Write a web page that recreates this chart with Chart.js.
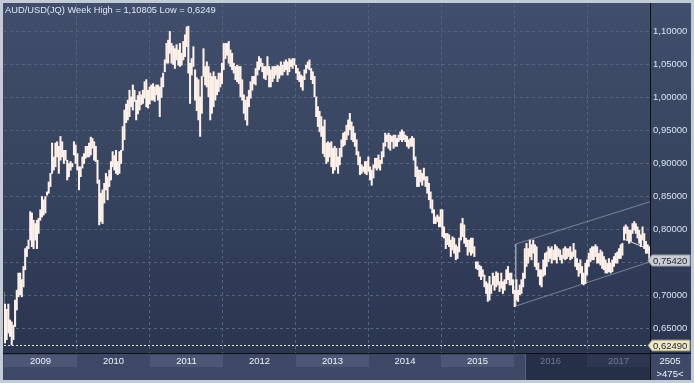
<!DOCTYPE html>
<html>
<head>
<meta charset="utf-8">
<script src="https://cdn.jsdelivr.net/npm/chart.js@4.4.0/dist/chart.umd.min.js"></script>
<style>
  html, body { margin: 0; padding: 0; background: #c3cbd6; }
  canvas { display: block; }
</style>
</head>
<body>
<canvas id="my-chart" width="694" height="383"></canvas>
<script>
// weekly high / low of AUD/USD (Jan 2009 -> Nov 2017)
const highs = [
  0.705,0.687,0.679,0.687,0.663,0.660,0.655,0.693,0.708,0.734,
  0.734,0.724,0.744,0.771,0.774,0.784,0.827,0.825,0.814,0.809,
  0.814,0.817,0.830,0.850,0.845,0.850,0.857,0.872,0.885,0.931,
  0.910,0.931,0.933,0.926,0.941,0.933,0.920,0.920,0.905,0.900,
  0.903,0.900,0.933,0.928,0.915,0.895,0.895,0.910,0.915,0.926,
  0.926,0.931,0.940,0.938,0.933,0.926,0.905,0.875,0.855,0.860,
  0.870,0.885,
  0.880,0.890,0.903,0.918,0.912,0.920,0.903,0.918,0.920,0.956,
  0.981,0.990,0.996,1.011,1.001,1.019,1.011,0.996,1.003,1.009,
  1.004,1.011,1.024,1.027,1.011,1.016,1.019,1.021,1.016,1.019,
  1.019,1.016,1.030,1.037,1.057,1.082,1.087,1.100,1.082,1.078,
  1.074,1.080,1.072,1.082,1.067,1.085,1.095,1.107,1.108,1.052,
  1.059,1.077,1.042,1.030,1.027,1.001,1.032,1.074,1.047,1.054,
  1.047,1.037,1.032,1.039,1.032,1.027,1.037,1.037,1.052,1.082,
  1.082,1.082,1.085,1.072,1.067,1.052,1.047,1.049,1.047,1.047,
  1.027,1.004,0.996,1.001,1.011,1.024,1.032,1.032,1.044,1.054,
  1.062,1.059,1.052,1.047,1.047,1.062,1.047,1.042,1.047,1.047,
  1.047,1.049,1.047,1.054,1.049,1.054,1.057,1.054,1.059,1.057,
  1.059,1.059,1.049,1.044,1.039,1.034,1.032,1.042,1.049,1.054,
  1.057,1.044,
  1.039,1.032,1.001,0.986,0.979,0.971,0.956,0.966,0.931,0.933,
  0.931,0.933,0.923,0.926,0.923,0.910,0.923,0.936,0.946,0.948,
  0.958,0.966,0.976,0.963,0.956,0.946,0.936,0.918,0.910,0.898,
  0.895,0.903,0.903,0.910,0.895,0.890,0.898,0.908,0.908,
  0.913,0.905,0.918,0.931,0.946,0.943,0.946,0.943,
  0.941,0.943,0.943,0.938,0.943,0.948,0.951,
  0.948,0.943,0.941,0.936,0.938,
  0.941,0.938,0.910,0.895,
  0.890,0.890,0.885,0.893,0.880,0.880,0.870,0.857,0.845,0.830,0.819,
  0.822,0.819,0.830,0.830,0.804,0.794,
  0.794,0.792,0.784,0.789,0.787,0.777,0.774,0.787,0.809,0.817,0.807,
  0.787,0.784,0.784,0.787,0.787,0.774,0.751,0.751,0.746,0.744,0.739,
  0.731,0.721,0.718,0.729,0.716,0.734,0.729,0.736,0.734,0.721,0.734,
  0.721,0.724,0.739,0.744,0.734,
  0.734,0.724,0.708,0.724,0.708,0.716,0.724,0.734,
  0.771,0.779,0.771,0.784,0.777,0.784,0.777,0.774,0.749,
  0.739,0.739,0.754,0.764,0.766,0.774,0.771,0.774,0.769,0.777,
  0.774,0.771,0.769,0.761,0.771,0.774,0.771,0.771,0.774,0.766,
  0.779,0.769,0.756,0.749,0.754,0.744,0.734,0.749,0.754,0.764,
  0.771,0.774,0.774,0.777,0.774,0.764,0.769,0.766,0.759,0.754,
  0.749,0.756,0.749,0.754,0.759,0.764,0.766,0.771,0.777,0.779,
  0.804,0.807,0.804,0.799,0.799,0.809,0.812,0.809,0.804,0.799,
  0.792,0.804,0.794,0.782,0.777,0.774
];
const lows = [
  0.655,0.628,0.633,0.643,0.638,0.625,0.633,0.653,0.678,0.698,
  0.701,0.698,0.713,0.739,0.759,0.771,0.784,0.774,0.771,0.784,
  0.771,0.794,0.814,0.819,0.822,0.825,0.852,0.855,0.865,0.885,
  0.890,0.895,0.910,0.885,0.905,0.910,0.900,0.905,0.875,0.880,
  0.890,0.895,0.913,0.900,0.890,0.860,0.880,0.893,0.900,0.908,
  0.910,0.910,0.913,0.923,0.905,0.903,0.870,0.807,0.812,0.809,
  0.840,0.860,
  0.845,0.865,0.875,0.895,0.890,0.885,0.883,0.885,0.900,0.920,
  0.936,0.962,0.966,0.971,0.986,0.981,0.994,0.966,0.975,0.981,
  0.989,0.991,0.999,0.986,0.984,0.990,0.996,0.996,0.994,1.004,
  0.996,0.971,1.000,1.016,1.039,1.052,1.052,1.067,1.052,1.050,
  1.044,1.057,1.049,1.047,1.049,1.057,1.062,1.077,1.037,0.991,
  1.034,1.047,0.996,0.980,0.966,0.941,0.976,1.032,1.019,1.016,
  1.001,0.966,0.976,0.986,0.996,1.004,1.009,1.016,1.021,1.042,
  1.059,1.064,1.052,1.047,1.042,1.037,1.027,1.024,1.021,1.001,
  0.996,0.976,0.966,0.958,0.986,0.999,1.011,1.021,1.019,1.034,
  1.042,1.047,1.039,1.029,1.027,1.034,1.016,1.016,1.024,1.029,
  1.034,1.024,1.029,1.034,1.034,1.039,1.042,1.034,1.039,1.047,
  1.044,1.049,1.037,1.027,1.024,1.016,1.011,1.027,1.037,1.044,
  1.042,1.027,
  1.021,1.001,0.971,0.956,0.948,0.941,0.915,0.910,0.900,0.903,
  0.910,0.895,0.885,0.890,0.895,0.885,0.898,0.910,0.926,0.928,
  0.936,0.943,0.951,0.936,0.933,0.926,0.913,0.898,0.883,0.885,
  0.888,0.885,0.883,0.888,0.875,0.867,0.878,0.893,0.890,
  0.893,0.890,0.900,0.910,0.926,0.933,0.923,0.920,
  0.933,0.923,0.926,0.926,0.933,0.936,0.933,
  0.936,0.933,0.926,0.923,0.926,
  0.926,0.905,0.880,0.865,
  0.865,0.872,0.867,0.875,0.865,0.855,0.845,0.832,0.825,0.809,0.809,
  0.812,0.804,0.804,0.789,0.787,0.771,
  0.777,0.774,0.759,0.769,0.764,0.754,0.756,0.766,0.784,0.789,0.779,
  0.774,0.761,0.766,0.761,0.764,0.759,0.741,0.739,0.729,0.724,0.729,
  0.713,0.703,0.691,0.693,0.703,0.716,0.708,0.713,0.716,0.706,0.711,
  0.703,0.708,0.718,0.724,0.716,
  0.716,0.703,0.683,0.693,0.691,0.701,0.703,0.713,
  0.726,0.744,0.749,0.759,0.754,0.764,0.744,0.739,0.729,
  0.716,0.713,0.729,0.731,0.744,0.751,0.756,0.749,0.754,0.754,
  0.749,0.759,0.754,0.749,0.756,0.754,0.756,0.759,0.754,0.756,
  0.759,0.744,0.739,0.729,0.734,0.718,0.716,0.718,0.731,0.744,
  0.751,0.754,0.754,0.759,0.749,0.749,0.746,0.741,0.739,0.734,
  0.734,0.736,0.734,0.736,0.744,0.749,0.749,0.756,0.756,0.761,
  0.784,0.794,0.784,0.779,0.782,0.794,0.799,0.794,0.787,0.779,
  0.774,0.784,0.771,0.764,0.764,0.754
];

const years = [2009, 2010, 2011, 2012, 2013, 2014, 2015, 2016, 2017];
const yTicks = [0.65, 0.70, 0.75, 0.80, 0.85, 0.90, 0.95, 1.00, 1.05, 1.10];
const lastPrice = 0.7542;
const lowPrice = 0.6249;
const titleText = 'AUD/USD(JQ) Week High = 1,10805 Low = 0,6249';

// drawn channel and the short trend line (year, price)
const channelTop = [{x: 2016.02, y: 0.778}, {x: 2017.86, y: 0.842}];
const channelBottom = [{x: 2016.02, y: 0.684}, {x: 2017.86, y: 0.751}];
const channelEdge = [{x: 2016.02, y: 0.778}, {x: 2016.02, y: 0.684}];
const shortTrend = [{x: 2017.51, y: 0.785}, {x: 2017.85, y: 0.770}];

const fadedFrom = 2016.15; // scroll bar area that is greyed out
const FONT = "'Liberation Sans', Arial, sans-serif";

const fmt = v => v.toFixed(5).replace('.', ',');

const panelPlugin = {
  id: 'panel',
  beforeDraw(chart) {
    const ctx = chart.ctx;
    const area = chart.chartArea;
    ctx.save();
    ctx.fillStyle = '#c3cbd6';
    ctx.fillRect(0, 0, chart.width, chart.height);
    const g = ctx.createLinearGradient(0, area.top, 0, area.bottom);
    g.addColorStop(0, '#414e6c');
    g.addColorStop(0.5, '#37445f');
    g.addColorStop(1, '#2a3550');
    ctx.fillStyle = g;
    ctx.fillRect(3, 3, 688, area.bottom - 3);
    // time strip
    ctx.fillStyle = '#3d4967';
    ctx.fillRect(3, area.bottom, 688, 27);
    const xs = chart.scales.xYear;
    const fadeX = Math.round(xs.getPixelForValue(fadedFrom));
    ctx.fillStyle = '#252f47';
    ctx.fillRect(fadeX, area.bottom + 1, area.right - fadeX, 26);
    ctx.font = '9.5px ' + FONT;
    ctx.textAlign = 'center';
    ctx.textBaseline = 'middle';
    years.forEach((yr, i) => {
      const x0 = Math.round(xs.getPixelForValue(yr));
      const x1 = Math.round(Math.min(xs.getPixelForValue(yr + 1), area.right));
      const faded = x1 > fadeX + 20;
      if (i % 2 === 0) {
        const bx = faded ? Math.max(x0, fadeX + 1) : x0;
        ctx.fillStyle = faded ? '#2d3751' : '#4b5775';
        ctx.fillRect(bx, area.bottom + 2, x1 - bx, 12);
      }
      ctx.fillStyle = faded ? '#6e7992' : '#eef2f8';
      ctx.fillText(String(yr), (x0 + x1) / 2, area.bottom + 8.5);
    });
    ctx.fillStyle = '#55607a';
    ctx.fillRect(fadeX, area.bottom + 1, 1, 26);
    ctx.restore();
  },
  afterDatasetsDraw(chart) {
    const ctx = chart.ctx;
    const area = chart.chartArea;
    const y = Math.round(chart.scales.y.getPixelForValue(lowPrice)) + 0.5;
    ctx.save();
    ctx.strokeStyle = '#e4e4e4';
    ctx.lineWidth = 1;
    ctx.setLineDash([2, 2]);
    ctx.beginPath();
    ctx.moveTo(area.left, y);
    ctx.lineTo(area.right - 2, y);
    ctx.stroke();
    ctx.restore();
  },
  afterDraw(chart) {
    const ctx = chart.ctx;
    const area = chart.chartArea;
    const ys = chart.scales.y;
    ctx.save();
    // black separators
    ctx.fillStyle = '#0b0f18';
    ctx.fillRect(3, area.bottom, 688, 1);
    ctx.fillRect(area.right, 3, 1, 377);
    // title
    ctx.font = '9.3px ' + FONT;
    ctx.fillStyle = '#dfe7f3';
    ctx.textAlign = 'left';
    ctx.textBaseline = 'alphabetic';
    ctx.fillText(titleText, 5, 12.5);
    // price tags
    ctx.font = '9.5px ' + FONT;
    const tag = (value, fill, stroke) => {
      const y = Math.round(ys.getPixelForValue(value)) + 0.5;
      ctx.beginPath();
      ctx.moveTo(area.right - 2, y);
      ctx.lineTo(area.right + 2, y - 5.5);
      ctx.lineTo(690, y - 5.5);
      ctx.lineTo(690, y + 5.5);
      ctx.lineTo(area.right + 2, y + 5.5);
      ctx.closePath();
      ctx.fillStyle = fill;
      ctx.fill();
      ctx.strokeStyle = stroke;
      ctx.lineWidth = 1;
      ctx.stroke();
      ctx.fillStyle = '#1c2233';
      ctx.textBaseline = 'middle';
      ctx.fillText(fmt(value), area.right + 3, y + 0.5);
    };
    tag(lastPrice, '#c9ccd2', '#9aa0aa');
    tag(lowPrice, '#ece8c6', '#8e8a6c');
    // bottom right counters
    ctx.fillStyle = '#eef2f8';
    ctx.textAlign = 'center';
    ctx.fillText('2505', 670, area.bottom + 8.5);
    ctx.fillText('>475<', 670, area.bottom + 21);
    ctx.restore();
  }
};

const channelStyle = {
  type: 'line',
  xAxisID: 'xYear',
  borderColor: 'rgba(178,185,200,0.55)',
  borderWidth: 1,
  pointRadius: 0,
  fill: false
};

const ctx = document.getElementById('my-chart').getContext('2d');
const chart = new Chart(ctx, {
  type: 'bar',
  data: {
    labels: highs.map((_, i) => i),
    datasets: [
      {
        label: 'AUD/USD',
        data: highs.map((h, i) => [lows[i], h]),
        backgroundColor: '#fff1ea',
        borderWidth: 0,
        barThickness: 1.4,
        xAxisID: 'x',
        yAxisID: 'y'
      },
      Object.assign({ data: channelTop }, channelStyle),
      Object.assign({ data: channelBottom }, channelStyle),
      Object.assign({ data: channelEdge }, channelStyle),
      Object.assign({ data: shortTrend }, channelStyle, { borderColor: '#e8e2de' })
    ]
  },
  options: {
    responsive: false,
    animation: false,
    events: [],
    devicePixelRatio: 1,
    layout: { padding: { left: 4, top: 4, right: 3, bottom: 30 } },
    plugins: { legend: { display: false }, tooltip: { enabled: false } },
    scales: {
      x: {
        type: 'category',
        display: false,
        offset: false,
        grid: { offset: false }
      },
      xYear: {
        type: 'linear',
        position: 'bottom',
        offset: false,
        min: years[0],
        max: 2017.86,
        afterBuildTicks: axis => { axis.ticks = years.slice(1).map(v => ({ value: v })); },
        afterFit: axis => { axis.height = 0; axis.paddingLeft = 0; axis.paddingRight = 0; },
        ticks: { display: false },
        grid: { color: '#56637f', drawTicks: false, offset: false },
        border: { display: false, dash: [3, 3] }
      },
      y: {
        position: 'right',
        min: 0.61288,
        max: 1.14167,
        afterBuildTicks: axis => { axis.ticks = yTicks.map(v => ({ value: v })); },
        afterFit: axis => { axis.width = 41; axis.paddingTop = 0; axis.paddingBottom = 0; },
        ticks: {
          color: '#d8e2f0',
          padding: 3,
          font: { size: 9.5, family: FONT },
          callback: v => fmt(v)
        },
        grid: { color: '#56637f', drawTicks: false },
        border: { display: false, dash: [3, 3] }
      }
    }
  },
  plugins: [panelPlugin]
});
</script>
</body>
</html>
